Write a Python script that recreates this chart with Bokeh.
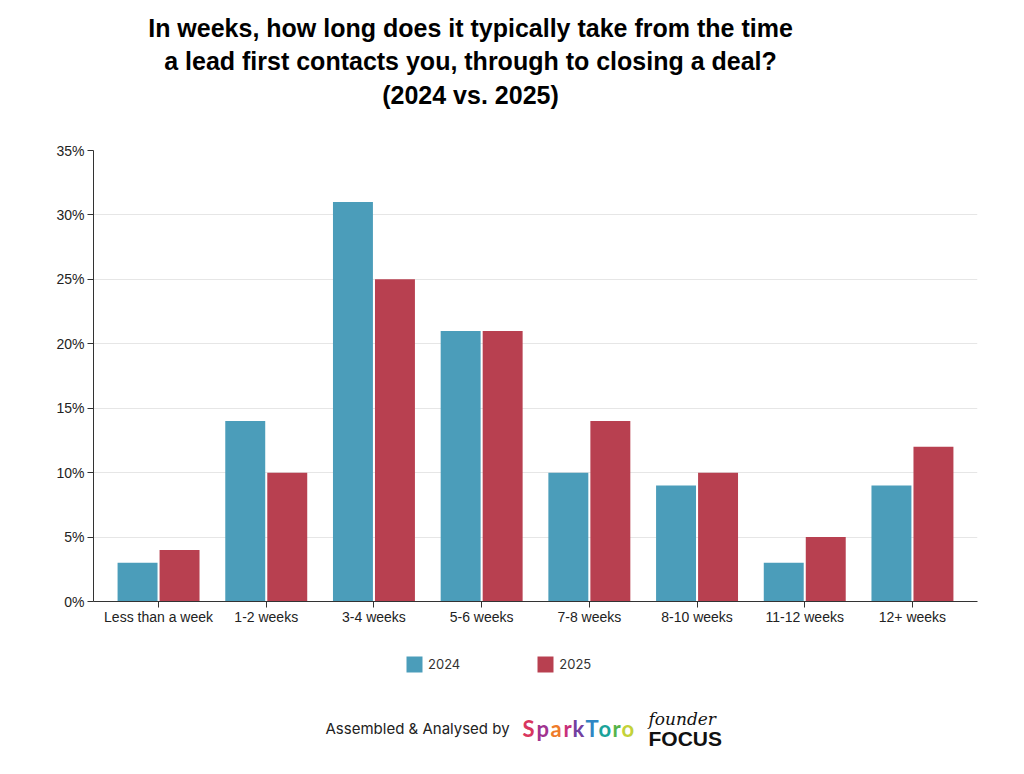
from bokeh.plotting import figure
from bokeh.layouts import column
from bokeh.models import (FactorRange, Range1d, FixedTicker, PrintfTickFormatter,
                          Legend, LegendItem, ColumnDataSource)
from bokeh.core.properties import value
from bokeh.transform import dodge
from bokeh.embed import file_html
from bokeh.resources import INLINE

# ---- data ----
categories = ["Less than a week", "1-2 weeks", "3-4 weeks", "5-6 weeks",
              "7-8 weeks", "8-10 weeks", "11-12 weeks", "12+ weeks"]
values_2024 = [3, 14, 31, 21, 10, 9, 3, 9]
values_2025 = [4, 10, 25, 21, 14, 10, 5, 12]
series_names = ["2024", "2025"]
y_ticks = [0, 5, 10, 15, 20, 25, 30, 35]
title_lines = ["In weeks, how long does it typically take from the time",
               "a lead first contacts you, through to closing a deal?",
               "(2024 vs. 2025)"]
footer_text = "Assembled & Analysed by"
logo_letters = list("SparkToro")

# ---- styles ----
BLUE = "#4b9dba"
RED = "#b84050"
AXIS = "#333333"
TEXT = "#222222"
W = 1008
LEFT, RIGHT = 93, 31
TITLE_H = 140
MAIN_H = 496
FOOT_H = 122


def blank(h):
    f = figure(width=W, height=h, output_backend="svg", toolbar_location=None,
               x_range=Range1d(LEFT, W - RIGHT), y_range=Range1d(h, 0),
               x_axis_location=None, y_axis_location=None,
               min_border_left=LEFT, min_border_right=RIGHT,
               min_border_top=0, min_border_bottom=0)
    f.grid.visible = False
    f.outline_line_color = None
    return f


# ---- title ----
tp = blank(TITLE_H)
tp.text(x=[470, 470, 470], y=[27, 60, 94], text=title_lines,
        text_align="center", text_baseline="middle",
        text_font=value("Liberation Sans"), text_font_style="bold",
        text_font_size="25px", text_color="#000000")

# ---- main chart ----
source = ColumnDataSource(dict(cat=categories, v2024=values_2024, v2025=values_2025))
p = figure(width=W, height=MAIN_H, output_backend="svg", toolbar_location=None,
           x_range=FactorRange(factors=categories, range_padding=0.104,
                               range_padding_units="absolute"),
           y_range=Range1d(0, 35),
           min_border_left=LEFT, min_border_right=RIGHT, min_border_top=10,
           min_border_bottom=35)
p.outline_line_color = None

r1 = p.vbar(x=dodge("cat", -0.195, range=p.x_range), top="v2024", width=0.371,
            source=source, fill_color=BLUE, line_color=None)
r2 = p.vbar(x=dodge("cat", 0.195, range=p.x_range), top="v2025", width=0.371,
            source=source, fill_color=RED, line_color=None)

p.xgrid.grid_line_color = None
p.ygrid.grid_line_color = "#e6e6e6"
p.ygrid.grid_line_width = 1
p.yaxis.ticker = FixedTicker(ticks=y_ticks)
p.yaxis.formatter = PrintfTickFormatter(format="%d%%")
for ax in (p.xaxis[0], p.yaxis[0]):
    ax.axis_line_color = AXIS
    ax.major_tick_line_color = AXIS
    ax.major_tick_out = 6
    ax.major_tick_in = 0
    ax.minor_tick_line_color = None
    ax.major_label_text_color = TEXT
    ax.major_label_text_font = "Liberation Sans"
    ax.major_label_text_font_size = "14px"
p.yaxis.major_label_standoff = 3
p.xaxis.major_label_standoff = 1

# ---- footer with legend ----
fp = blank(FOOT_H)
# legend key renderers (zero-size, only used to draw the legend keys)
lr1 = fp.vbar(x=[LEFT], top=[0], bottom=[0], width=0, fill_color=BLUE, line_color=None)
lr2 = fp.vbar(x=[LEFT], top=[0], bottom=[0], width=0, fill_color=RED, line_color=None)
legend = Legend(items=[LegendItem(label=series_names[0], renderers=[lr1]),
                       LegendItem(label=series_names[1], renderers=[lr2])],
                orientation="horizontal", location=(311, 84),
                glyph_width=20, glyph_height=20, label_height=20,
                label_standoff=4, spacing=75, padding=0, margin=0,
                border_line_color=None, background_fill_alpha=0,
                label_text_font="Inter", label_text_font_size="13px",
                label_text_color="#333333")
fp.add_layout(legend, "center")

fp.text(x=[325], y=[92], text=[footer_text], text_align="left",
        text_baseline="middle", text_font=value("Inter"),
        text_font_size="15px", text_color="#222222")

logo_x = [522, 536, 550, 563, 572, 585, 598, 612, 621]
logo_colors = ["#d9365e", "#a0338f", "#ef7b2a", "#c8307a", "#7240a0",
               "#2f86c4", "#1aa39a", "#56b44a", "#c3d23a"]
fp.text(x=logo_x, y=[92] * len(logo_x), text=logo_letters, text_align="left",
        text_baseline="middle", text_font=value("Lato"), text_font_style="bold",
        text_font_size="22px", text_color=logo_colors)
fp.text(x=[648], y=[82], text=["founder"], text_align="left",
        text_baseline="middle", text_font=value("DejaVu Serif"),
        text_font_style="italic", text_font_size="17px", text_color="#111111")
fp.text(x=[648], y=[102], text=["FOCUS"], text_align="left",
        text_baseline="middle", text_font=value("Liberation Sans"),
        text_font_style="bold", text_font_size="21px", text_color="#111111")

layout = column(tp, p, fp, spacing=0)
open("out.html", "w").write(file_html(layout, INLINE))
